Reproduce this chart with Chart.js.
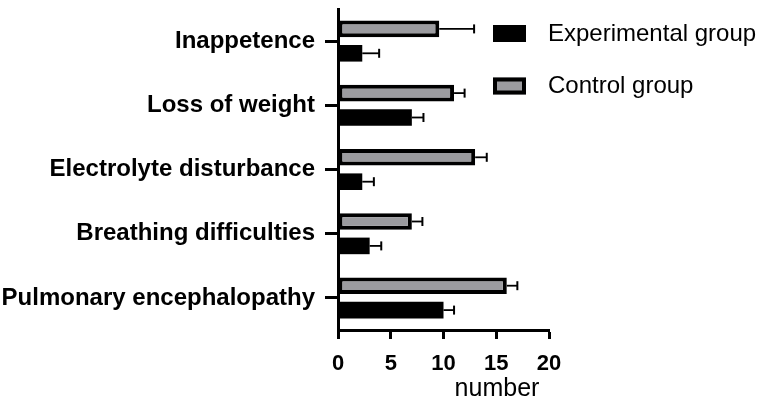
<!DOCTYPE html>
<html>
<head>
<meta charset="utf-8">
<script src="https://cdn.jsdelivr.net/npm/chart.js@4"></script>
<style>
html,body{margin:0;padding:0;background:#fff;}
#wrap{width:767px;height:398px;position:relative;}
</style>
</head>
<body>
<div id="wrap"><canvas id="c"></canvas></div>
<script>
const categories = ['Inappetence', 'Loss of weight', 'Electrolyte disturbance', 'Breathing difficulties', 'Pulmonary encephalopathy'];
const controlValues = [9.6, 11, 13, 7, 16];
const controlErrors = [3.3, 1, 1.1, 1, 1];
const experimentalValues = [2.3, 7, 2.3, 3, 10];
const experimentalErrors = [1.6, 1.1, 1.1, 1.1, 1];
const xTicks = [0, 5, 10, 15, 20];
const axisTitle = 'number';
const legendOrder = ['Experimental group', 'Control group'];

const FONT = '"Liberation Sans", Arial, Helvetica, sans-serif';
const GRAY = '#9b9b9f';

const errorBars = {
  id: 'errorBars',
  afterDatasetsDraw(chart) {
    const ctx = chart.ctx;
    const xs = chart.scales.x;
    chart.data.datasets.forEach((ds, di) => {
      const meta = chart.getDatasetMeta(di);
      meta.data.forEach((el, i) => {
        const v = ds.data[i];
        const e = ds.errors[i];
        const x0 = xs.getPixelForValue(v);
        const x1 = xs.getPixelForValue(v + e);
        const y = el.y;
        ctx.save();
        ctx.strokeStyle = '#000';
        ctx.lineWidth = 1.8;
        ctx.beginPath();
        ctx.moveTo(x0, y);
        ctx.lineTo(x1, y);
        ctx.stroke();
        ctx.lineWidth = 2;
        ctx.beginPath();
        ctx.moveTo(x1, y - 4.5);
        ctx.lineTo(x1, y + 4.5);
        ctx.stroke();
        ctx.restore();
      });
    });
  }
};

const customLegend = {
  id: 'customLegend',
  afterDraw(chart) {
    const ctx = chart.ctx;
    ctx.save();
    legendOrder.forEach((label, k) => {
      const ds = chart.data.datasets.find(d => d.label === label);
      const bx = 493, by = 25 + k * 52.5, bw = 33, bh = 17;
      ctx.fillStyle = ds.backgroundColor;
      ctx.fillRect(bx, by, bw, bh);
      if (ds.backgroundColor !== '#000') {
        ctx.strokeStyle = '#000';
        ctx.lineWidth = 4;
        ctx.strokeRect(bx + 2, by + 2, bw - 4, bh - 4);
      }
      ctx.fillStyle = '#000';
      ctx.font = '24px ' + FONT;
      ctx.textAlign = 'left';
      ctx.textBaseline = 'middle';
      ctx.fillText(label, 548, by + bh / 2 + 0.5);
    });
    ctx.font = '25px ' + FONT;
    ctx.textAlign = 'center';
    ctx.textBaseline = 'alphabetic';
    ctx.fillText(axisTitle, 497, 396);
    ctx.restore();
  }
};

new Chart(document.getElementById('c'), {
  type: 'bar',
  data: {
    labels: categories,
    datasets: [
      {
        label: 'Control group',
        data: controlValues,
        errors: controlErrors,
        backgroundColor: GRAY,
        borderColor: '#000',
        borderWidth: 4,
        borderSkipped: false
      },
      {
        label: 'Experimental group',
        data: experimentalValues,
        errors: experimentalErrors,
        backgroundColor: '#000',
        borderColor: '#000',
        borderWidth: 0,
        borderSkipped: false
      }
    ]
  },
  options: {
    indexAxis: 'y',
    responsive: true,
    maintainAspectRatio: false,
    animation: false,
    categoryPercentage: 0.76,
    barPercentage: 0.68,
    layout: { padding: { top: 9, right: 218, left: 0, bottom: 0 } },
    plugins: { legend: { display: false }, tooltip: { enabled: false } },
    scales: {
      x: {
        type: 'linear',
        min: 0,
        max: 20,
        afterBuildTicks(scale) { scale.ticks = xTicks.map(v => ({ value: v })); },
        afterFit(scale) { scale.height = 68; scale.paddingLeft = 0; scale.paddingRight = 0; },
        grid: { drawOnChartArea: false, drawTicks: true, tickLength: 9, tickWidth: 3, tickColor: '#000', color: '#000' },
        border: { display: true, width: 3, color: '#000' },
        ticks: { color: '#000', padding: 12, font: { family: FONT, size: 22, weight: 'bold' } }
      },
      y: {
        type: 'category',
        offset: true,
        afterFit(scale) { scale.width = 338; scale.paddingTop = 0; scale.paddingBottom = 0; },
        grid: { offset: false, drawOnChartArea: false, drawTicks: true, tickLength: 13, tickWidth: 3, tickColor: '#000', color: '#000' },
        border: { display: true, width: 3, color: '#000' },
        ticks: { color: '#000', padding: 10, font: { family: FONT, size: 24, weight: 'bold' } }
      }
    }
  },
  plugins: [errorBars, customLegend]
});
</script>
</body>
</html>
